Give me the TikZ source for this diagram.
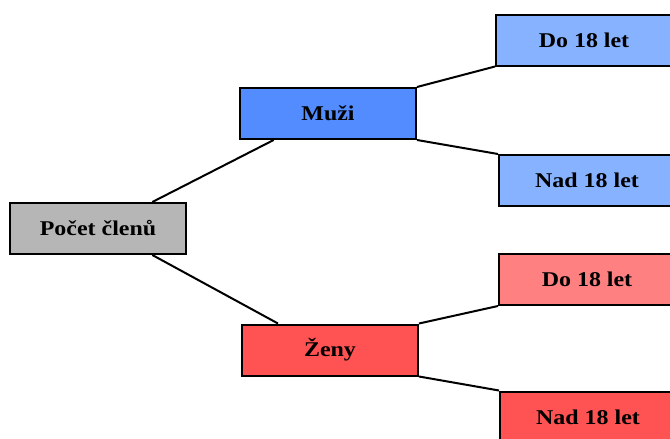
\documentclass[tikz,border=0pt]{standalone}
\usepackage{fontspec}
\setmainfont[FakeStretch=1.14]{Liberation Serif}
\definecolor{sedy}{RGB}{182,182,182}
\definecolor{modry}{RGB}{82,140,255}
\definecolor{svmodry}{RGB}{134,178,255}
\definecolor{cerveny}{RGB}{255,82,82}
\definecolor{svcerveny}{RGB}{255,128,128}
\begin{document}
\begin{tikzpicture}[x=1pt,y=-1pt,
  box/.style={draw=black, line width=2pt, minimum width=176pt, minimum height=51pt, inner sep=0pt, font=\fontsize{21}{25}\selectfont\bfseries},
  spoj/.style={line width=2pt}]
\useasboundingbox (0,0) rectangle (670,439);
\clip (0,0) rectangle (670,439);
\node[box, fill = sedy] (pocet) at (98,228.5) {Počet členů};
\node[box, fill = modry] (muzi) at (328,113.5) {Muži};
\node[box, fill = cerveny] (zeny) at (330,350) {Ženy};
\node[box, fill = svmodry] (mdo) at (584,40) {Do 18 let};
\node[box, fill = svmodry] (mnad) at (587,180.5) {Nad 18 let};
\node[box, fill = svcerveny] (zdo) at (587,279.5) {Do 18 let};
\node[box, fill = cerveny] (znad) at (588,417) {Nad 18 let};
\draw[spoj] (pocet.26) -- (muzi.206);
\draw[spoj] (pocet.-26) -- (zeny.153);
\draw[spoj] (muzi.north east) -- (mdo.south west);
\draw[spoj] (muzi.south east) -- (mnad.north west);
\draw[spoj] (zeny.north east) -- (zdo.south west);
\draw[spoj] (zeny.south east) -- (znad.north west);
\end{tikzpicture}
\end{document}
